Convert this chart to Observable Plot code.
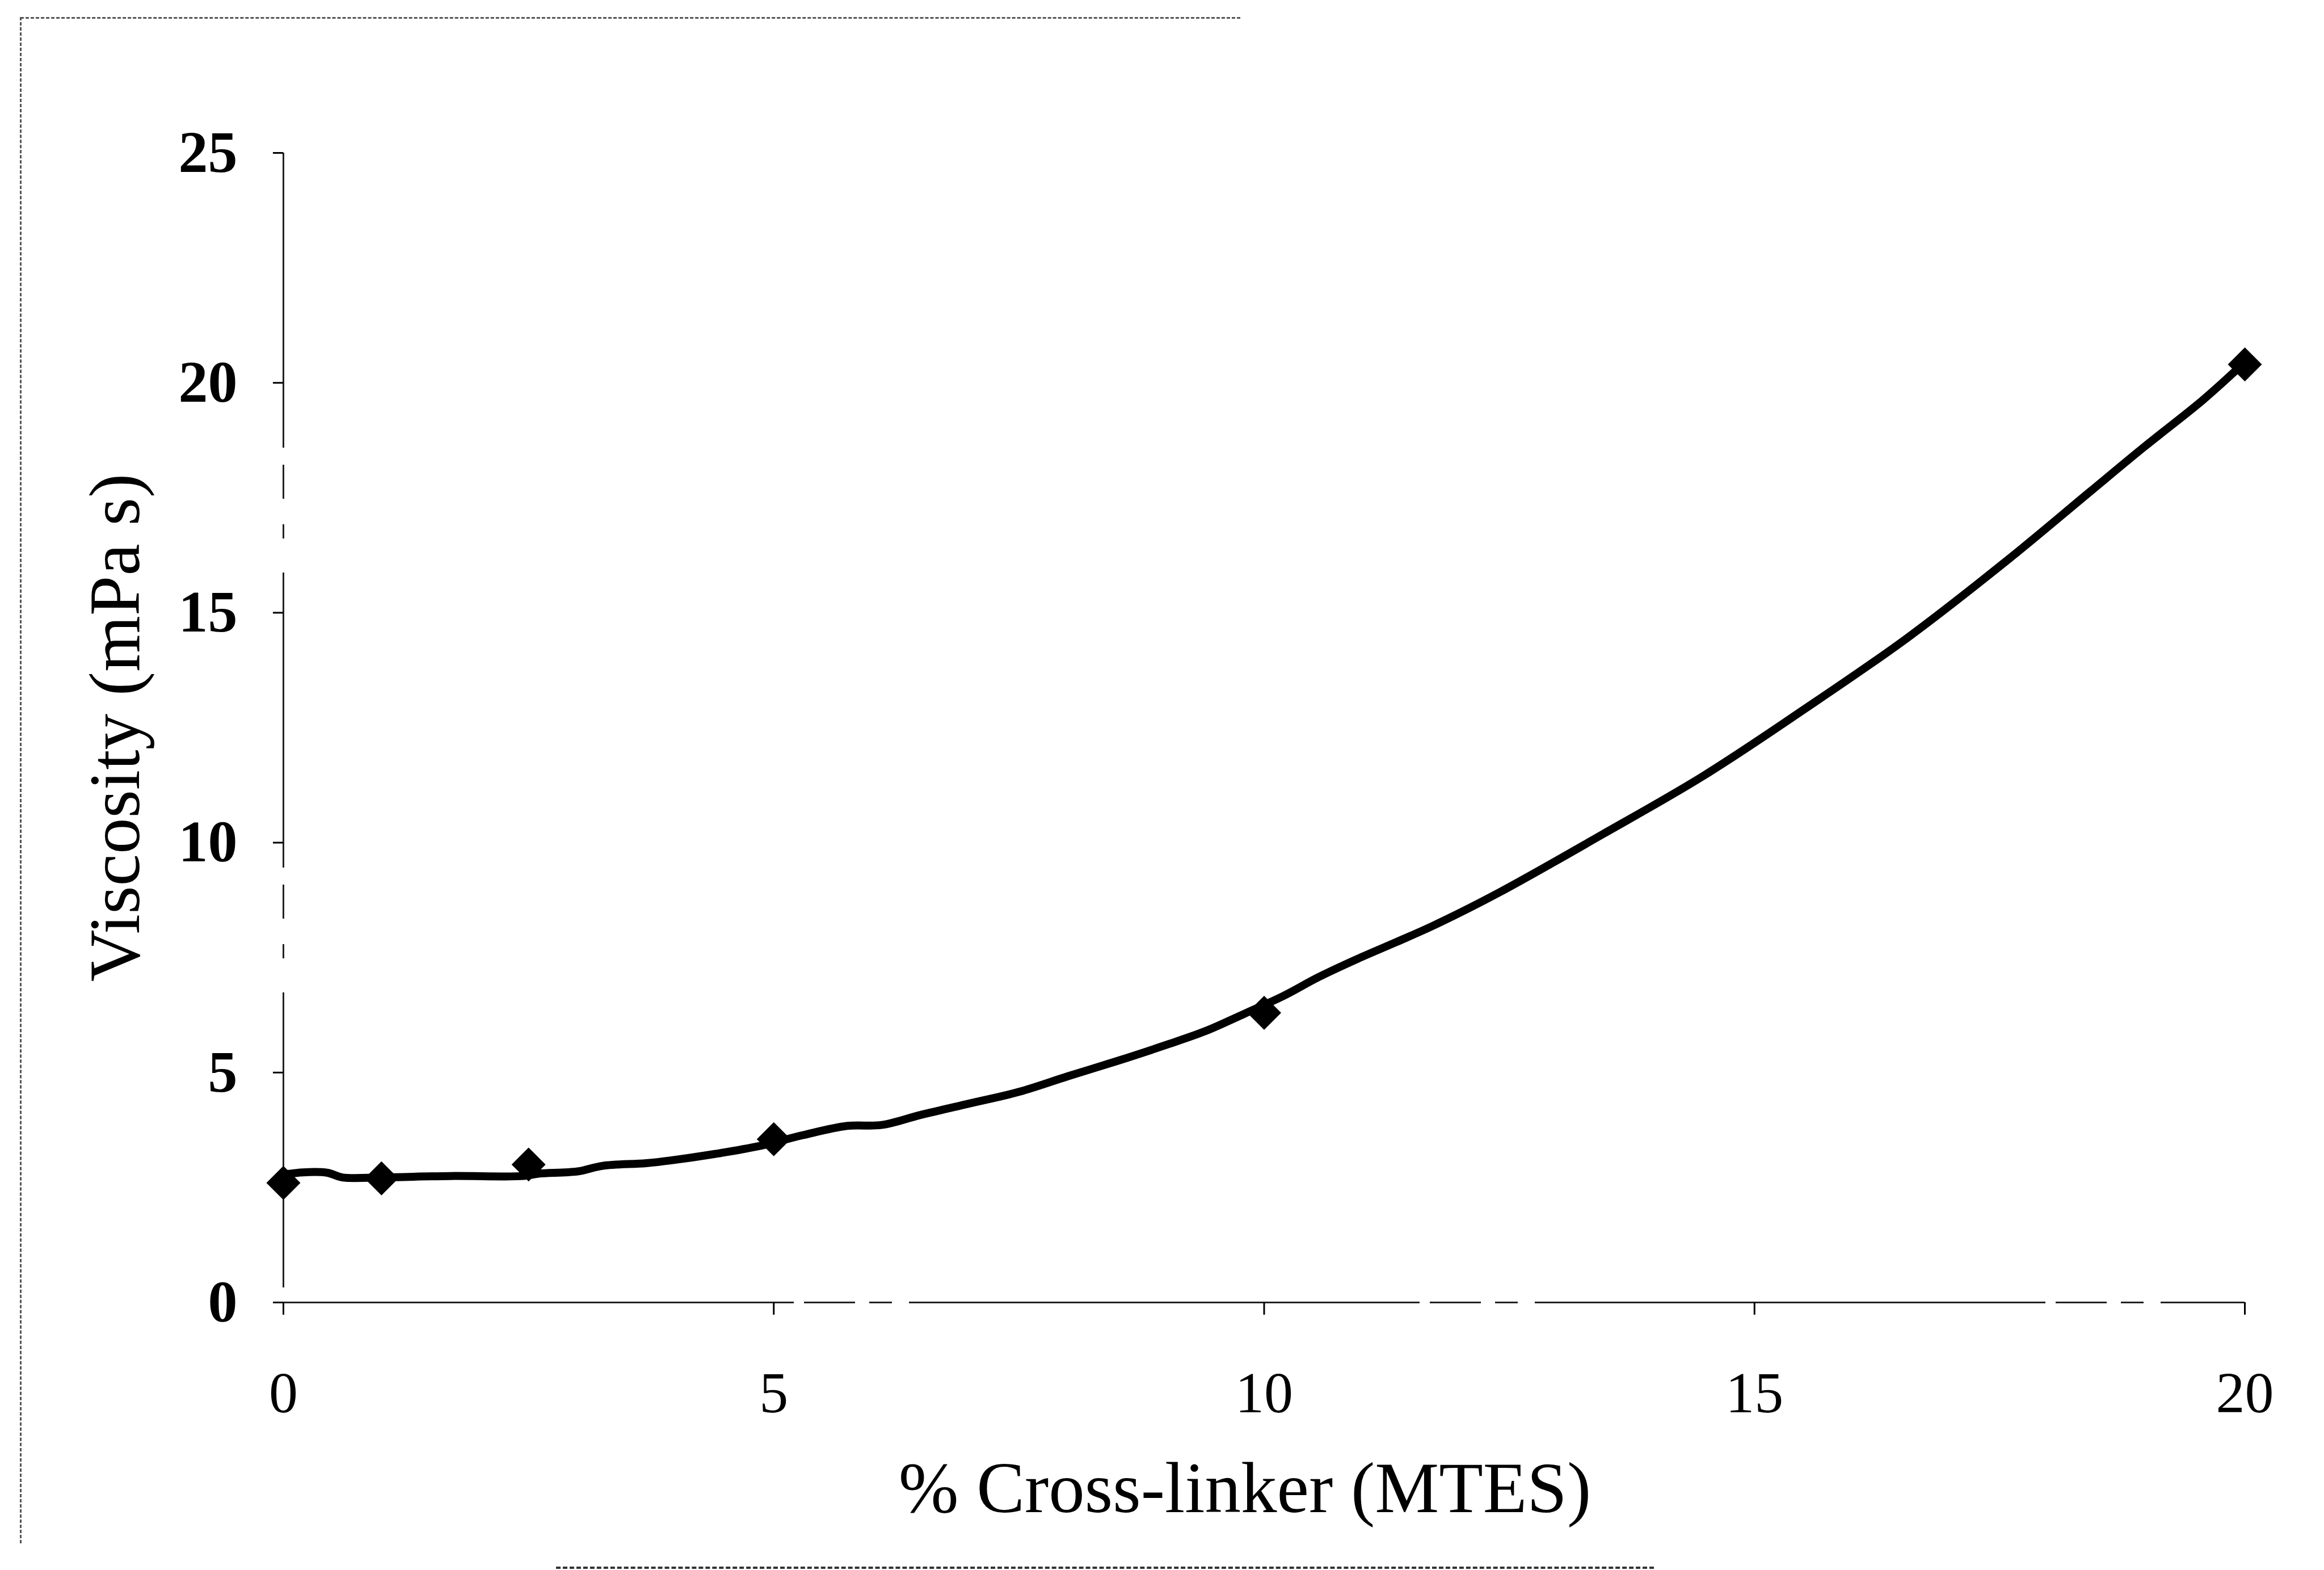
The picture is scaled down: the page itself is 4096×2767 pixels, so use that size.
<!DOCTYPE html>
<html>
<head>
<meta charset="utf-8">
<script src="https://cdn.jsdelivr.net/npm/d3@7"></script>
<script src="https://cdn.jsdelivr.net/npm/@observablehq/plot@0.6"></script>
<style>
  html, body { margin: 0; padding: 0; background: #fff; }
  #wrap { position: relative; width: 4096px; height: 2767px; overflow: hidden; background: #fff; }
  #wrap svg { position: absolute; left: 0; top: 0; }
  .edge { position: absolute; border-color: #444; }
</style>
</head>
<body>
<div id="wrap">
  <div class="edge" style="left:36px; top:30px; width:2150px; height:0; border-top:3px dashed #555;"></div>
  <div class="edge" style="left:35px; top:30px; width:0; height:2690px; border-left:3px dashed #555;"></div>
  <div class="edge" style="left:980px; top:2761px; width:1935px; height:0; border-top:4px dashed #333;"></div>
</div>
<script>
// Measured viscosity at each cross-linker loading
const crossLinkerPct = [0, 1, 2.5, 5, 10, 20];
const viscosity = [2.6, 2.7, 3.0, 3.55, 6.3, 20.4];

// Trend line through the measurements
const trendPct = [0, 0.2, 0.45, 0.6, 1.0, 1.7, 2.45, 2.6, 3.0, 3.25, 3.7, 3.95, 4.4, 4.85, 5.3, 5.75, 6.1, 6.5, 7.0, 7.5, 8.0, 8.5, 9.0, 9.4, 9.8, 10.2, 10.55, 10.95, 11.35, 11.72, 12.4, 13.45, 14.47, 15.5, 16.55, 17.6, 18.42, 18.97, 19.58, 20.0];
const trendVisc = [2.78, 2.83, 2.82, 2.72, 2.72, 2.75, 2.75, 2.8, 2.85, 2.97, 3.03, 3.09, 3.23, 3.40, 3.64, 3.84, 3.86, 4.08, 4.33, 4.58, 4.92, 5.25, 5.6, 5.9, 6.28, 6.67, 7.07, 7.47, 7.84, 8.19, 8.92, 10.18, 11.44, 12.89, 14.44, 16.18, 17.63, 18.6, 19.64, 20.45];

// Axis ticks
const xTicks = [0, 5, 10, 15, 20];
const yTicks = [0, 5, 10, 15, 20, 25];

const xTitle = "% Cross-linker (MTES)";
const yTitle = "Viscosity (mPa s)";

const points = crossLinkerPct.map((x, i) => ({x, y: viscosity[i]}));
const trend = trendPct.map((x, i) => ({x, y: trendVisc[i]}));

const chart = Plot.plot({
  width: 4096,
  height: 2767,
  marginLeft: 499,
  marginRight: 140,
  marginTop: 269,
  marginBottom: 472,
  x: {domain: [0, 20]},
  y: {domain: [0, 25]},
  style: {fontFamily: "'Liberation Serif', 'DejaVu Serif', serif", color: "#000", background: "transparent", overflow: "visible"},
  marks: [
    Plot.ruleX([0], {stroke: "#222", strokeWidth: 3, strokeDasharray: "520,30,60,45,25,60"}),
    Plot.ruleY([0], {stroke: "#222", strokeWidth: 3, strokeDasharray: "900,18,90,25,40,30"}),
    Plot.axisY({ticks: yTicks, tickSize: 18, tickPadding: 63, fontSize: 104, fontWeight: "bold", strokeWidth: 3, label: null}),
    Plot.axisX({ticks: xTicks, tickSize: 22, tickPadding: 99, fontSize: 102, strokeWidth: 3, label: null, stroke: "#000"}),
    Plot.line(trend, {x: "x", y: "y", stroke: "#000", strokeWidth: 14, curve: "catmull-rom", strokeLinejoin: "round", strokeLinecap: "round"}),
    Plot.dot(points, {x: "x", y: "y", symbol: "diamond2", r: 27, fill: "#000", stroke: "none"}),
    Plot.text([yTitle], {frameAnchor: "left", dx: -295, rotate: -90, fontSize: 127, textAnchor: "middle", lineAnchor: "middle", fill: "#000"}),
    Plot.text([xTitle], {frameAnchor: "bottom", dx: -34, dy: 329, fontSize: 127, textAnchor: "middle", lineAnchor: "middle", fill: "#000"})
  ]
});

document.getElementById("wrap").appendChild(chart);
</script>
</body>
</html>
